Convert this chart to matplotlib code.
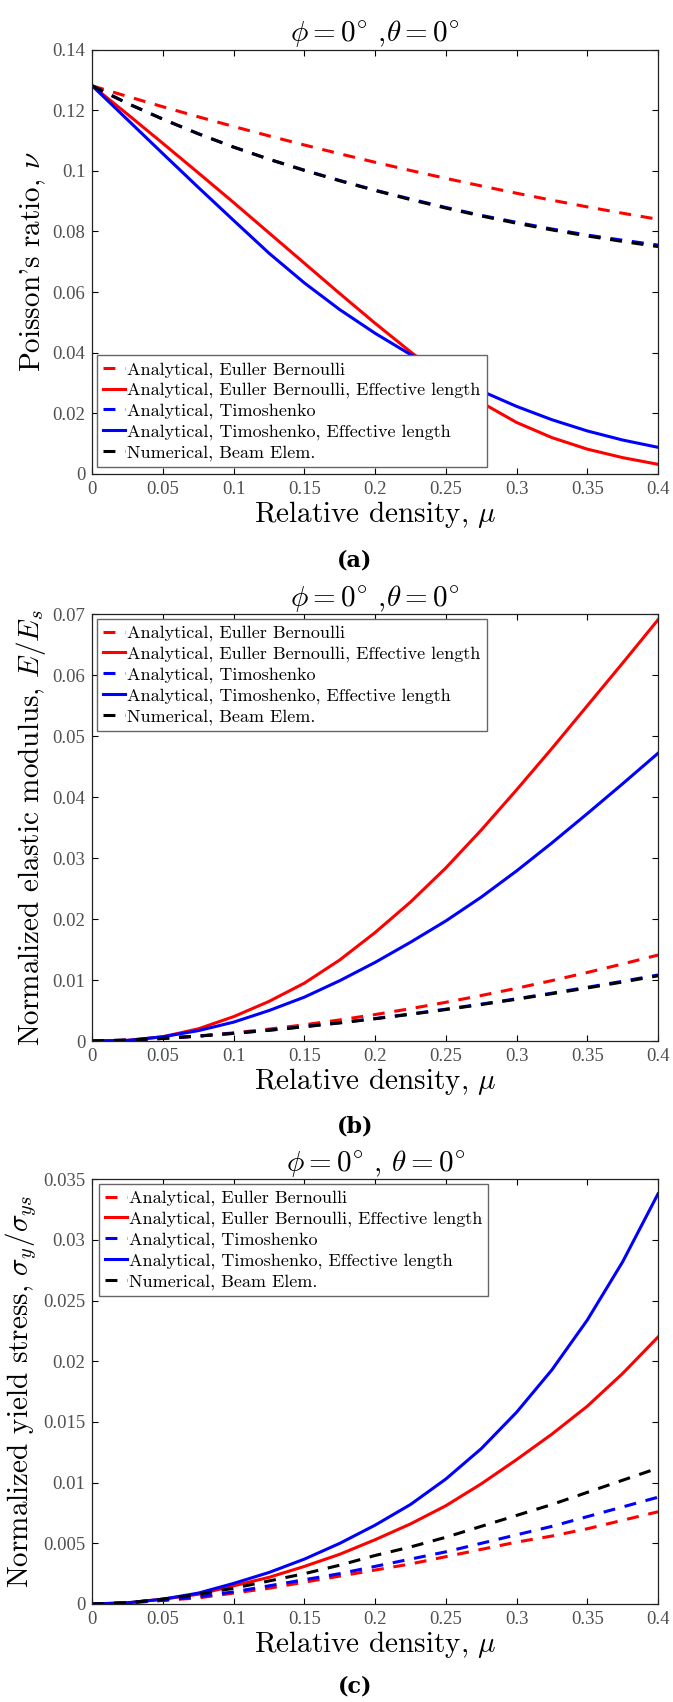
import matplotlib
matplotlib.use("Agg")
import matplotlib.pyplot as plt
from matplotlib.ticker import FixedLocator, FixedFormatter

plt.rcParams["font.family"] = "cmr10"
plt.rcParams["mathtext.fontset"] = "cm"
plt.rcParams["axes.unicode_minus"] = False
plt.rcParams["axes.formatter.use_mathtext"] = True

# relative density samples shared by every panel
mu = [0.0, 0.025, 0.05, 0.075, 0.1, 0.125, 0.15, 0.175, 0.2,
      0.225, 0.25, 0.275, 0.3, 0.325, 0.35, 0.375, 0.4]

# (a) Poisson's ratio
nu_eb = [0.1280, 0.1245, 0.1211, 0.1178, 0.1146, 0.1115, 0.1085, 0.1056, 0.1028,
         0.1001, 0.0975, 0.0950, 0.0926, 0.0903, 0.0881, 0.0860, 0.0840]
nu_eb_eff = [0.1280, 0.1186, 0.1090, 0.0993, 0.0895, 0.0795, 0.0695, 0.0595, 0.0497,
             0.0403, 0.0314, 0.0236, 0.0170, 0.0120, 0.0082, 0.0054, 0.0032]
nu_timo = [0.1280, 0.1222, 0.1170, 0.1122, 0.1078, 0.1038, 0.1002, 0.0968, 0.0936,
           0.0907, 0.0879, 0.0853, 0.0830, 0.0808, 0.0788, 0.0771, 0.0755]
nu_timo_eff = [0.1280, 0.1168, 0.1056, 0.0945, 0.0836, 0.0728, 0.0630, 0.0542, 0.0464,
               0.0394, 0.0331, 0.0274, 0.0223, 0.0179, 0.0142, 0.0112, 0.0088]
nu_num = [0.1280, 0.1222, 0.1170, 0.1122, 0.1078, 0.1038, 0.1001, 0.0967, 0.0935,
          0.0905, 0.0877, 0.0851, 0.0827, 0.0805, 0.0785, 0.0767, 0.0750]

# (b) normalized elastic modulus E/Es
e_eb = [0.0, 0.00013, 0.00041, 0.00082, 0.00134, 0.00195, 0.00266, 0.00346, 0.00434,
        0.00531, 0.00635, 0.00746, 0.00865, 0.00991, 0.01124, 0.01264, 0.0141]
e_eb_eff = [0.0, 0.0001, 0.0007, 0.0020, 0.0040, 0.0065, 0.0095, 0.0133, 0.0178,
            0.0228, 0.0284, 0.0346, 0.0412, 0.0480, 0.0550, 0.0620, 0.0691]
e_timo = [0.0, 0.00015, 0.00043, 0.00081, 0.00126, 0.00178, 0.00236, 0.00300, 0.00369,
          0.00443, 0.00522, 0.00605, 0.00693, 0.00785, 0.00881, 0.00980, 0.01083]
e_timo_eff = [0.0, 0.0001, 0.0007, 0.0017, 0.0031, 0.0050, 0.0072, 0.0099, 0.0129,
              0.0162, 0.0197, 0.0236, 0.0279, 0.0325, 0.0373, 0.0422, 0.0472]
e_num = [0.0, 0.00015, 0.00043, 0.00080, 0.00125, 0.00176, 0.00234, 0.00297, 0.00365,
         0.00438, 0.00516, 0.00598, 0.00685, 0.00776, 0.00870, 0.00968, 0.0107]

# (c) normalized yield stress
s_eb = [0.0, 0.0001, 0.0003, 0.0005, 0.0009, 0.0013, 0.0018, 0.0023, 0.0028,
        0.0033, 0.0039, 0.0045, 0.0051, 0.0056, 0.0062, 0.0069, 0.0076]
s_eb_eff = [0.0, 0.0001, 0.0004, 0.0008, 0.0015, 0.0022, 0.0031, 0.0041, 0.0053,
            0.0066, 0.0081, 0.0099, 0.0119, 0.0140, 0.0163, 0.0190, 0.0220]
s_timo = [0.0, 0.0001, 0.0003, 0.0006, 0.0010, 0.0015, 0.0020, 0.0025, 0.0031,
          0.0037, 0.0043, 0.0050, 0.0057, 0.0064, 0.0072, 0.0080, 0.0088]
s_timo_eff = [0.0, 0.0001, 0.0004, 0.0009, 0.0017, 0.0026, 0.0037, 0.0050, 0.0065,
              0.0082, 0.0103, 0.0128, 0.0158, 0.0193, 0.0234, 0.0282, 0.0338]
s_num = [0.0, 0.0001, 0.0004, 0.0008, 0.0013, 0.0019, 0.0025, 0.0032, 0.0040,
         0.0047, 0.0055, 0.0064, 0.0073, 0.0082, 0.0092, 0.0102, 0.0112]

labels = ["Analytical, Euller Bernoulli",
          "Analytical, Euller Bernoulli, Effective length",
          "Analytical, Timoshenko",
          "Analytical, Timoshenko, Effective length",
          "Numerical, Beam Elem."]
colors = ["#ff0000", "#ff0000", "#0000ff", "#0000ff", "#000000"]
dashed = [True, False, True, False, True]

x_ticks = [0, 0.05, 0.1, 0.15, 0.2, 0.25, 0.3, 0.35, 0.4]
x_ticklabels = ["0", "0.05", "0.1", "0.15", "0.2", "0.25", "0.3", "0.35", "0.4"]

yticks_a = [0, 0.02, 0.04, 0.06, 0.08, 0.1, 0.12, 0.14]
ylabels_a = ["0", "0.02", "0.04", "0.06", "0.08", "0.1", "0.12", "0.14"]
yticks_b = [0, 0.01, 0.02, 0.03, 0.04, 0.05, 0.06, 0.07]
ylabels_b = ["0", "0.01", "0.02", "0.03", "0.04", "0.05", "0.06", "0.07"]
yticks_c = [0, 0.005, 0.01, 0.015, 0.02, 0.025, 0.03, 0.035]
ylabels_c = ["0", "0.005", "0.01", "0.015", "0.02", "0.025", "0.03", "0.035"]

W, H = 673, 1702
fig = plt.figure(figsize=(W / 100, H / 100), dpi=100)

TICK_COLOR = "#505050"
LW = 2.2
DASH = (3.9, 3.2)


def add_panel(top, bottom, left=92.3, right=658.0):
    return fig.add_axes([left / W, 1 - bottom / H, (right - left) / W, (bottom - top) / H])


def draw_panel(ax, series, yticks, yticklabels, ylabel, title, legend_loc, legend_anchor):
    for ys, lab, col, dsh in zip(series, labels, colors, dashed):
        if dsh:
            ax.plot(mu, ys, color=col, lw=LW, dashes=DASH, label=lab)
        else:
            ax.plot(mu, ys, color=col, lw=LW, label=lab)

    ax.set_xlim(0, 0.4)
    ax.set_ylim(yticks[0], yticks[-1])
    ax.xaxis.set_major_locator(FixedLocator(x_ticks))
    ax.xaxis.set_major_formatter(FixedFormatter(x_ticklabels))
    ax.yaxis.set_major_locator(FixedLocator(yticks))
    ax.yaxis.set_major_formatter(FixedFormatter(yticklabels))
    ax.tick_params(direction="in", length=4.5, width=0.8, top=True, right=True,
                   labelsize=13.5, labelcolor=TICK_COLOR, labelfontfamily="Liberation Serif",
                   pad=5)
    for sp in ax.spines.values():
        sp.set_linewidth(0.9)
        sp.set_color("#222222")

    ax.set_xlabel(r"Relative density, $\mu$", fontsize=21, labelpad=1)
    ax.set_ylabel(ylabel, fontsize=21, labelpad=3)
    ax.set_title(title, fontsize=21, pad=6)

    leg = ax.legend(loc=legend_loc, bbox_to_anchor=legend_anchor, borderaxespad=0,
                    fontsize=13, handlelength=1.2, handletextpad=0.12,
                    labelspacing=0.26, borderpad=0.35, fancybox=False,
                    framealpha=1, edgecolor="#666666")
    leg.get_frame().set_linewidth(1.0)


ax_a = add_panel(49.5, 474.0)
draw_panel(ax_a, [nu_eb, nu_eb_eff, nu_timo, nu_timo_eff, nu_num],
           yticks_a, ylabels_a, r"Poisson's ratio, $\nu$",
           r"$\phi = 0^{\circ}$ ,$\theta = 0^{\circ}$",
           "lower left", (0.0085, 0.0165))

ax_b = add_panel(614.3, 1041.0)
draw_panel(ax_b, [e_eb, e_eb_eff, e_timo, e_timo_eff, e_num],
           yticks_b, ylabels_b, r"Normalized elastic modulus, $E/E_s$",
           r"$\phi = 0^{\circ}$ ,$\theta = 0^{\circ}$",
           "upper left", (0.0085, 0.989))

ax_c = add_panel(1179.3, 1604.0)
draw_panel(ax_c, [s_eb, s_eb_eff, s_timo, s_timo_eff, s_num],
           yticks_c, ylabels_c, r"Normalized yield stress, $\sigma_y/\sigma_{ys}$",
           r"$\phi = 0^{\circ}$ , $\theta = 0^{\circ}$",
           "upper left", (0.0110, 0.989))

# sub-figure captions
for tag, ypix in [("(a)", 560), ("(b)", 1126), ("(c)", 1687)]:
    fig.text(355 / W, 1 - ypix / H, tag, ha="center", va="center",
             fontsize=16, fontweight="bold", family="DejaVu Serif")

fig.savefig("out.png", dpi=100)
